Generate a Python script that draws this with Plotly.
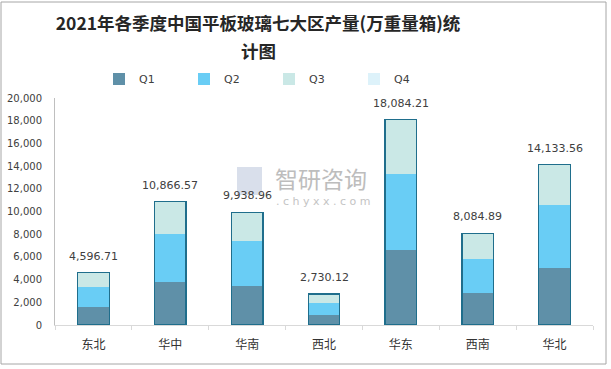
import plotly.graph_objects as go

regions = ["东北", "华中", "华南", "西北", "华东", "西南", "华北"]
q1 = [1590, 3790, 3440, 880, 6600, 2820, 5020]
q2 = [1760, 4230, 3960, 1060, 6700, 2990, 5550]
totals = [4596.71, 10866.57, 9938.96, 2730.12, 18084.21, 8084.89, 14133.56]
q3 = [round(t - a - b, 2) for t, a, b in zip(totals, q1, q2)]
q4 = [0, 0, 0, 0, 0, 0, 0]
y_ticks = list(range(0, 20001, 2000))

colors = {"Q1": "#5F90A8", "Q2": "#69CDF5", "Q3": "#CAE8E6", "Q4": "#DDF2FA"}

fig = go.Figure()
for name, vals in [("Q1", q1), ("Q2", q2), ("Q3", q3), ("Q4", q4)]:
    fig.add_trace(go.Bar(x=regions, y=vals, name=name,
                         marker=dict(color=colors[name], line=dict(width=0)),
                         hoverinfo="skip"))

# outline of whole stack
fig.add_trace(go.Bar(x=regions, y=totals, xaxis="x2", showlegend=False,
                     marker=dict(color="rgba(0,0,0,0)",
                                 line=dict(color="#1F6E8C", width=1.3)),
                     hoverinfo="skip"))

annotations = []
for r, t in zip(regions, totals):
    annotations.append(dict(x=r, y=t, xref="x", yref="y", text=f"{t:,.2f}",
                            showarrow=False, yanchor="bottom", yshift=8,
                            font=dict(family="DejaVu Sans", size=11, color="#404040")))

W, H = 611, 369
L, R, T, B = 55, 18, 98, 44
pw, ph = W - L - R, H - T - B

def px(x):
    return (x - L) / pw

def py(y):
    return (H - B - y) / ph

title_font = dict(family="Noto Sans CJK SC", size=17.5, color="#262626", weight="bold")

# second title line
annotations.append(dict(x=px(258), y=py(51), xref="paper", yref="paper", text="计图",
                        xanchor="center", yanchor="middle",
                        showarrow=False, font=title_font))

# watermark
annotations.append(dict(x=px(321), y=py(178), xref="paper", yref="paper", text="智研咨询",
                        xanchor="center", yanchor="middle",
                        showarrow=False, font=dict(family="Noto Sans CJK SC", size=23, color="#bdbdbd")))
annotations.append(dict(x=px(274), y=py(201), xref="paper", yref="paper", xanchor="left",
                        yanchor="middle", text=". c h y x x . c o m",
                        showarrow=False, font=dict(family="DejaVu Sans", size=11, color="#c4c4c4")))

shapes = [
    dict(type="rect", xref="paper", yref="paper", x0=px(1), x1=px(606), y0=py(364), y1=py(2),
         line=dict(color="#a6a6a6", width=1), layer="below"),
    dict(type="rect", xref="paper", yref="paper", x0=px(237), x1=px(262), y0=py(195), y1=py(167),
         line=dict(width=0), fillcolor="rgba(170,185,210,0.45)", layer="below"),
]

fig.update_layout(
    width=W, height=H,
    margin=dict(l=L, r=R, t=T, b=B, autoexpand=False),
    paper_bgcolor="white", plot_bgcolor="white",
    barmode="stack", bargap=0.59,
    title=dict(text="2021年各季度中国平板玻璃七大区产量(万重量箱)统",
               x=258 / W, xref="container", xanchor="center",
               y=1 - 24 / H, yref="container", yanchor="middle",
               font=title_font),
    legend=dict(orientation="h", traceorder="normal", x=px(99), xanchor="left", y=py(79), yanchor="middle",
                font=dict(family="DejaVu Sans", size=11, color="#404040"),
                entrywidth=40, entrywidthmode="pixels",
                bgcolor="rgba(0,0,0,0)"),
    xaxis=dict(type="category", showline=True, linecolor="#d9d9d9", linewidth=1,
               ticks="outside", tickson="boundaries", ticklen=4, tickcolor="#d9d9d9",
               ticklabelstandoff=9,
               tickfont=dict(family="Noto Sans CJK SC", size=12, color="#333333"),
               showgrid=False, fixedrange=True),
    xaxis2=dict(type="category", overlaying="x", visible=False, matches="x"),
    yaxis=dict(range=[0, 20000], tickvals=y_ticks, tickformat=",", showgrid=False,
               showline=True, linecolor="#bfbfbf", linewidth=1, ticks="",
               ticklabelstandoff=10,
               tickfont=dict(family="DejaVu Sans", size=10, color="#404040"),
               zeroline=False),
    annotations=annotations,
    shapes=shapes,
)

fig.write_html("out.html", config={"displayModeBar": False},
               post_script="document.body.style.margin='0';")
